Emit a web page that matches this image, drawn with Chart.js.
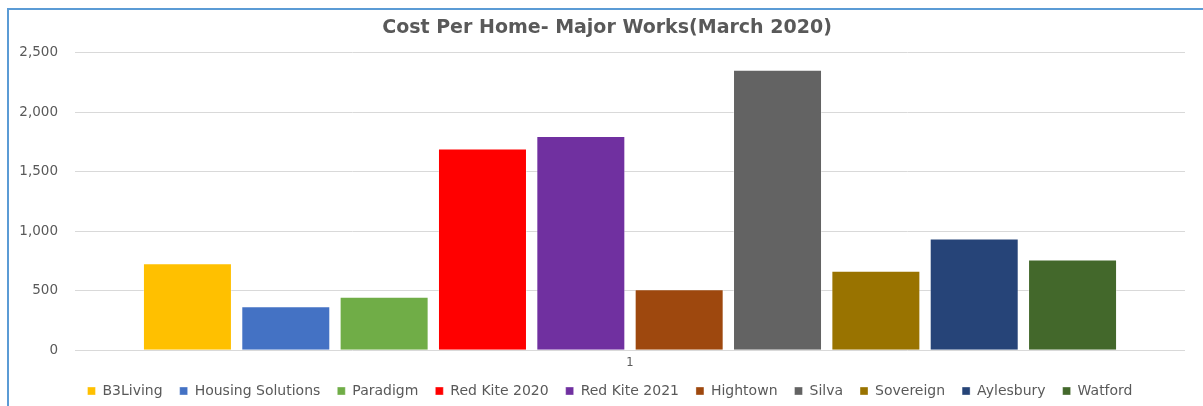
<!DOCTYPE html>
<html lang="en">
<head>
    <meta charset="UTF-8">
    <title>Cost Per Home - Major Works (March 2020)</title>
    <script src="https://cdn.jsdelivr.net/npm/chart.js"></script>
    <style>
        body {
            margin: 0;
            background: white;
            overflow: hidden;
        }
        .frame {
            position: absolute;
            left: 7px;
            top: 8px;
            width: 1196px;
            height: 409px;
            border-left: 2px solid #5b9bd5;
            border-top: 2px solid #5b9bd5;
        }
        .frame canvas {
            display: block;
        }
    </style>
</head>
<body>
    <div class="frame">
        <canvas id="costChart" width="1194" height="407"></canvas>
    </div>

    <script>
        // data
        const categories = ['1'];
        const providers = ['B3Living', 'Housing Solutions', 'Paradigm', 'Red Kite 2020', 'Red Kite 2021',
                           'Hightown', 'Silva', 'Sovereign', 'Aylesbury', 'Watford'];
        const costs = [730, 370, 449, 1695, 1801, 513, 2357, 668, 940, 763];
        const colours = ['#FFC000', '#4472C4', '#70AD47', '#FF0000', '#7030A0',
                         '#9E480E', '#636363', '#997300', '#264478', '#43682B'];
        const yTicks = [0, 500, 1000, 1500, 2000, 2500];

        const textGrey = '#595959';

        const datasets = providers.map((name, i) => ({
            label: name,
            data: [costs[i]],
            backgroundColor: colours[i],
            borderColor: 'rgba(255,255,255,0.35)',
            borderWidth: 1,
            categoryPercentage: 0.886,
            barPercentage: 0.905
        }));

        // nudge legend + title so they sit like the excel original
        const nudgeBoxes = {
            id: 'nudgeBoxes',
            afterLayout(chart) {
                const lg = chart.legend;
                if (lg) {
                    lg.top -= 9;
                    lg.bottom -= 9;
                    lg.left += 13;
                    lg.right += 13;
                    if (lg.adjustHitBoxes) lg.adjustHitBoxes();
                }
                const tb = chart.titleBlock;
                if (tb) {
                    tb.left += 10;
                    tb.right += 10;
                }
            }
        };

        const ctx = document.getElementById('costChart').getContext('2d');
        new Chart(ctx, {
            type: 'bar',
            data: { labels: categories, datasets: datasets },
            plugins: [nudgeBoxes],
            options: {
                responsive: false,
                animation: false,
                layout: { padding: { left: 0, right: 18, top: 0, bottom: 0 } },
                scales: {
                    x: {
                        grid: { display: false, drawTicks: false },
                        border: { display: false },
                        ticks: { color: textGrey, font: { family: 'DejaVu Sans', size: 11.5 }, padding: 6 }
                    },
                    y: {
                        min: 0,
                        max: 2500,
                        afterBuildTicks: (scale) => { scale.ticks = yTicks.map(v => ({ value: v })); },
                        afterFit: (scale) => { scale.width = 66; },
                        grid: { color: '#d9d9d9', drawTicks: false },
                        border: { display: false },
                        ticks: {
                            color: textGrey,
                            font: { family: 'DejaVu Sans', size: 13.5 },
                            padding: 17,
                            callback: (v) => v.toLocaleString('en-GB')
                        }
                    }
                },
                plugins: {
                    title: {
                        display: true,
                        text: 'Cost Per Home- Major Works(March 2020)',
                        color: textGrey,
                        font: { family: 'DejaVu Sans', size: 19, weight: 'bold' },
                        padding: { top: 7, bottom: 13 }
                    },
                    legend: {
                        position: 'bottom',
                        labels: {
                            color: textGrey,
                            font: { family: 'DejaVu Sans', size: 14 },
                            boxWidth: 8,
                            boxHeight: 8,
                            padding: 17
                        }
                    },
                    tooltip: { enabled: false }
                }
            }
        });
    </script>
</body>
</html>
